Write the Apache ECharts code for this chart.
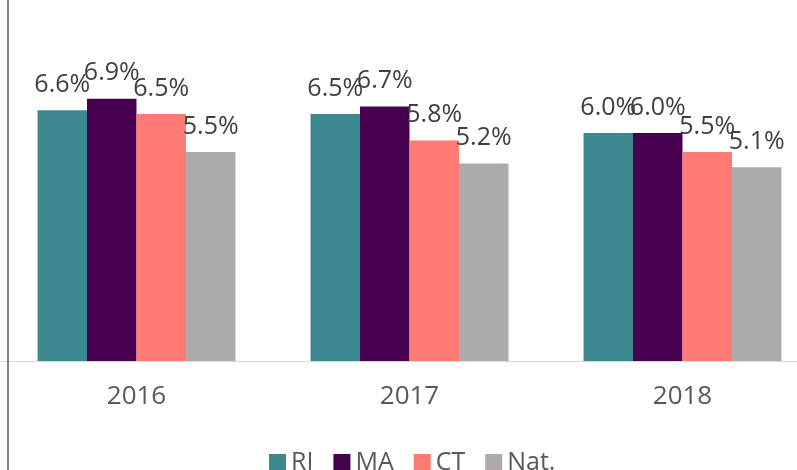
<!DOCTYPE html>
<html>
<head>
<meta charset="utf-8">
<script src="https://cdn.jsdelivr.net/npm/echarts@6/dist/echarts.min.js"></script>
<style>
  html, body { margin: 0; padding: 0; background: #fff; overflow: hidden; }
  #wrap { width: 797px; height: 470px; overflow: hidden; }
  #chart { width: 819px; height: 470px; }
</style>
</head>
<body>
<div id="wrap"><div id="chart"></div></div>
<script>
const years = ['2016', '2017', '2018'];
const seriesNames = ['RI', 'MA', 'CT', 'Nat.'];
const riValues = [6.6, 6.5, 6.0];
const maValues = [6.9, 6.7, 6.0];
const ctValues = [6.5, 5.8, 5.5];
const natValues = [5.5, 5.2, 5.1];
const colors = ['#3B898F', '#46004E', '#FF7B74', '#AEAAAA'];

const font = "'Open Sans', sans-serif";
const allValues = [riValues, maValues, ctValues, natValues];

const chart = echarts.init(document.getElementById('chart'));
chart.setOption({
    animation: false,
    textStyle: { fontFamily: font },
    grid: { left: 0, right: 0, top: 19, bottom: 109, containLabel: false },
    legend: {
        data: seriesNames,
        left: 264,
        top: 445,
        itemWidth: 17,
        itemHeight: 17,
        itemGap: 20,
        icon: 'rect',
        textStyle: { fontSize: 25, color: '#595959', fontFamily: font }
    },
    xAxis: {
        type: 'category',
        data: years,
        axisLine: { lineStyle: { color: '#D9D9D9', width: 1 } },
        axisTick: { show: false },
        axisLabel: { fontSize: 26, color: '#595959', margin: 23, fontFamily: font }
    },
    yAxis: {
        type: 'value',
        min: 0,
        max: 9,
        show: false,
        splitLine: { show: false }
    },
    graphic: [{
        type: 'line',
        shape: { x1: 8, y1: 0, x2: 8, y2: 470 },
        style: { stroke: '#808080', lineWidth: 2 },
        z: 10
    }],
    series: allValues.map((vals, i) => ({
        name: seriesNames[i],
        type: 'bar',
        data: vals,
        barGap: '0%',
        barCategoryGap: '27.5%',
        itemStyle: { color: colors[i] },
        label: {
            show: true,
            position: 'top',
            distance: 13,
            fontSize: 25,
            color: '#404040',
            fontFamily: font,
            formatter: p => p.value.toFixed(1) + '%'
        }
    }))
});
</script>
</body>
</html>
